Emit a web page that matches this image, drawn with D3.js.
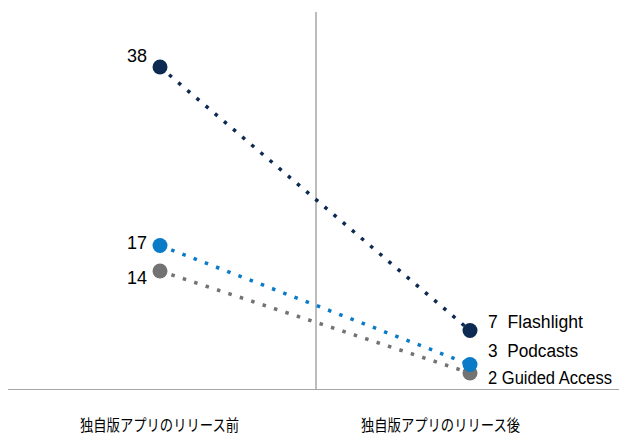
<!DOCTYPE html>
<html><head><meta charset="utf-8">
<script src="https://cdn.jsdelivr.net/npm/d3@7"></script>
<style>body{margin:0;background:#fff}svg{display:block}</style>
</head><body>
<svg id="c" width="619" height="435"></svg>
<script>
const categories = ["独自版アプリのリリース前", "独自版アプリのリリース後"];
const seriesNames = ["Flashlight", "Podcasts", "Guided Access"];
const beforeValues = [38, 17, 14];
const afterValues = [7, 3, 2];
const colors = ["#0d2a52", "#0a7bc7", "#737373"];

const svg = d3.select("#c");
const font = "'Liberation Sans',Arial,sans-serif";
const x = d3.scalePoint().domain(categories).range([160, 470]);
const y = d3.scaleLinear().domain([0, 38]).range([390, 67]);

// baseline & divider
svg.append("line").attr("x1", 8).attr("x2", 619).attr("y1", 389.5).attr("y2", 389.5)
  .attr("stroke", "#a6a6a6").attr("stroke-width", 1);
svg.append("line").attr("x1", 316).attr("x2", 316).attr("y1", 12).attr("y2", 389)
  .attr("stroke", "#a6a6a6").attr("stroke-width", 1.5);

const data = seriesNames.map((n, i) => ({name: n, b: beforeValues[i], a: afterValues[i], c: colors[i]}));

data.slice().reverse().forEach(d => {
  svg.append("line")
    .attr("x1", x(categories[0])).attr("y1", y(d.b))
    .attr("x2", x(categories[1])).attr("y2", y(d.a))
    .attr("stroke", d.c).attr("stroke-width", 3.5)
    .attr("stroke-dasharray", "3.5,8.5");
});
data.slice().reverse().forEach(d => {
  svg.append("circle").attr("cx", x(categories[0])).attr("cy", y(d.b)).attr("r", 7.5).attr("fill", d.c);
  svg.append("circle").attr("cx", x(categories[1])).attr("cy", y(d.a)).attr("r", 7.5).attr("fill", d.c);
});

// left value labels (baseline offsets)
const leftDy = [-5, 3, 13];
data.forEach((d, i) => {
  svg.append("text").attr("x", 147).attr("y", y(d.b) + leftDy[i])
    .attr("text-anchor", "end").attr("font-family", font).attr("font-size", 18).attr("fill", "#000")
    .text(d.b);
});
// right labels
const rightY = [328, 357, 384];
const rightW = [95, 90, 124];
data.forEach((d, i) => {
  svg.append("text").attr("x", 488).attr("y", rightY[i])
    .attr("font-family", font).attr("font-size", 18).attr("fill", "#000")
    .attr("textLength", rightW[i]).attr("lengthAdjust", "spacingAndGlyphs")
    .attr("xml:space", "preserve")
    .text(d.a + (i === 2 ? " " : "  ") + d.name);
});

// category labels
const catX = [80, 361];
categories.forEach((c, i) => {
  svg.append("text").attr("x", catX[i]).attr("y", 431)
    .attr("font-family", "'Noto Sans CJK JP',sans-serif").attr("font-size", 16)
    .attr("textLength", 159).attr("lengthAdjust", "spacingAndGlyphs")
    .attr("fill", "#000").text(c);
});
</script>
</body></html>
